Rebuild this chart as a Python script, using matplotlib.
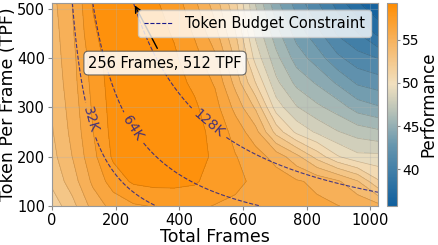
import numpy as np
import matplotlib
matplotlib.use("Agg")
import matplotlib.pyplot as plt
from matplotlib.colors import LinearSegmentedColormap, Normalize
from matplotlib.cm import ScalarMappable
from matplotlib.lines import Line2D

# ---- data ----
frames = [0, 64, 128, 192, 256, 320, 384, 448, 512, 576, 640, 704, 768, 832, 896, 960, 1024]
tpf = [100, 150, 200, 250, 300, 350, 400, 450, 512]
# performance per frame value, listed from TPF 100 up to 512
perf_cols = {
    0:    [51.5, 52.5, 53.0, 53.3, 53.5, 53.7, 53.9, 54.0, 54.2],
    64:   [53.0, 54.0, 54.6, 54.9, 55.1, 55.3, 55.4, 55.6, 55.8],
    128:  [55.0, 56.0, 56.6, 56.9, 57.1, 57.3, 57.5, 57.9, 58.2],
    192:  [56.2, 57.5, 58.3, 58.5, 58.6, 58.7, 58.8, 58.9, 59.0],
    256:  [56.8, 58.3, 58.9, 59.1, 59.1, 59.1, 59.1, 59.1, 59.0],
    320:  [57.0, 58.5, 59.2, 59.3, 59.2, 59.0, 58.8, 58.6, 58.3],
    384:  [57.1, 58.5, 59.1, 59.0, 58.8, 58.5, 58.3, 58.0, 57.6],
    448:  [57.1, 58.3, 58.6, 58.5, 58.3, 57.9, 57.4, 56.8, 56.0],
    512:  [56.9, 57.5, 57.9, 57.8, 57.4, 56.8, 56.0, 55.0, 54.0],
    576:  [56.8, 57.1, 57.0, 56.5, 55.4, 54.2, 53.2, 52.3, 51.3],
    640:  [56.6, 56.8, 56.3, 55.0, 53.2, 51.0, 49.4, 48.4, 47.4],
    704:  [56.4, 56.4, 55.3, 51.8, 49.3, 47.8, 46.7, 45.6, 44.3],
    768:  [56.2, 55.9, 53.8, 49.6, 47.6, 46.0, 44.6, 43.5, 42.3],
    832:  [56.0, 55.5, 51.8, 48.5, 46.6, 45.0, 43.4, 42.0, 40.6],
    896:  [55.8, 54.8, 50.0, 47.6, 45.8, 43.8, 41.9, 40.3, 38.8],
    960:  [55.5, 53.5, 49.0, 47.0, 44.6, 42.6, 40.9, 39.3, 37.0],
    1024: [55.0, 51.2, 49.0, 46.6, 44.1, 42.2, 40.4, 37.8, 35.8],
}
budgets = [32768, 65536, 131072]
budget_labels = {32768: "32K", 65536: "64K", 131072: "128K"}
label_pos = [(111, 273), (254, 258), (492, 268)]
annot_text = "256 Frames, 512 TPF"
annot_xy = (256, 512)
annot_xytext = (355, 390)
xticks = [0, 200, 400, 600, 800, 1000]
yticks = [100, 200, 300, 400, 500]
cbar_ticks = [40, 45, 50, 55]

# ---- build arrays ----
F = np.array(frames, dtype=float)
T = np.array(tpf, dtype=float)
Z = np.array([perf_cols[f] for f in frames]).T  # shape (len(tpf), len(frames))
FF, TT = np.meshgrid(F, T)

cmap = LinearSegmentedColormap.from_list(
    "perf", [(0.0, "#0f5f9e"), (0.3, "#6796ae"), (0.47, "#b9c3b8"),
             (0.6, "#f1e0bf"), (0.8, "#f6b666"), (1.0, "#ff8c00")])
vmin, vmax = 35.7, 59.3
norm = Normalize(vmin, vmax)
levels = np.linspace(vmin, vmax, 21)

fig = plt.figure(figsize=(4.39, 2.45), dpi=100)
ax = fig.add_axes([0.1185, 0.159, 0.7425, 0.829])

ax.contourf(FF, TT, Z, levels=levels, cmap=cmap, norm=norm)
ax.contour(FF, TT, Z, levels=levels, colors="k", linewidths=0.5, alpha=0.18)

# token budget constraint lines
fb = np.linspace(1, 1024, 400)
tb = np.linspace(100, 512, 400)
FB, TB = np.meshgrid(fb, tb)
cs = ax.contour(FB, TB, FB * TB, levels=budgets, colors="#1a1a8c",
                linestyles="--", linewidths=0.8, alpha=0.8)
ax.clabel(cs, fmt=budget_labels, fontsize=10, manual=label_pos, inline=True)

ax.annotate(annot_text, xy=annot_xy, xytext=annot_xytext, ha="center", va="center",
            fontsize=10.5,
            bbox=dict(boxstyle="round,pad=0.3", fc="white", ec="#555555", lw=0.8, alpha=0.85),
            arrowprops=dict(arrowstyle="->", color="black", lw=1))

ax.set_xlim(0, 1024)
ax.set_ylim(100, 512)
ax.set_xticks(xticks)
ax.set_yticks(yticks)
ax.tick_params(labelsize=10.5, length=3, pad=2, color="#888888")
ax.set_xlabel("Total Frames", fontsize=12.5, labelpad=0)
ax.set_ylabel("Token Per Frame (TPF)", fontsize=12.5, labelpad=0)
ax.grid(True, alpha=0.3)
for s in ax.spines.values():
    s.set_color("#999999")

handle = Line2D([0], [0], color="#1a1a8c", ls="--", lw=0.8)
ax.legend([handle], ["Token Budget Constraint"], loc="upper right", fontsize=10.5)

cax = fig.add_axes([0.881, 0.159, 0.024, 0.829])
cb = fig.colorbar(ScalarMappable(norm=norm, cmap=cmap), cax=cax)
cb.set_ticks(cbar_ticks)
cb.ax.tick_params(labelsize=10, length=2.5, pad=1, color="#888888")
cb.outline.set_edgecolor("#999999")
cb.set_label("Performance", fontsize=12, labelpad=0)

fig.savefig("out.png", dpi=100)
